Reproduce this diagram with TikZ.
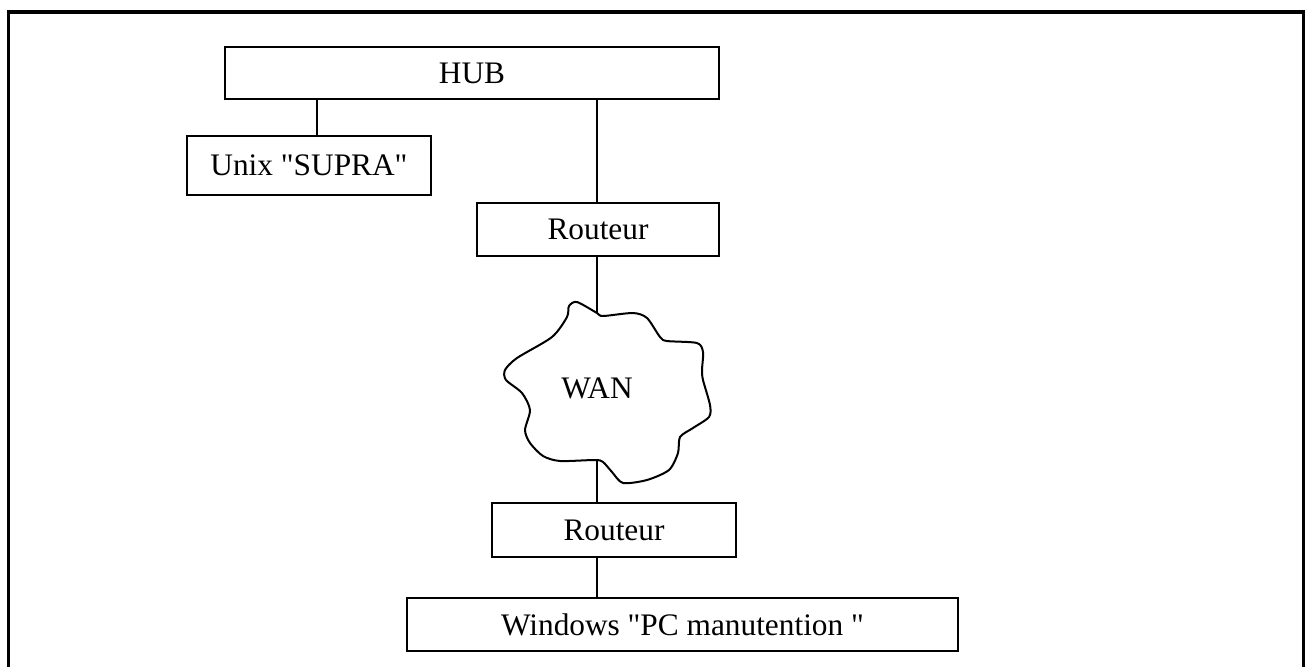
\documentclass[tikz,border=0pt]{standalone}
\usepackage{fontspec}
\setmainfont{Liberation Serif}
\begin{document}
\begin{tikzpicture}[x=0.75pt,y=-0.75pt,
  box/.style={draw,line width=1.5pt,rectangle,inner sep=0pt,
    font=\fontsize{23.5}{28}\selectfont},
  link/.style={line width=1.5pt},
  frame/.style={line width=2.6pt}]
\useasboundingbox (0,0) rectangle (1305,667);
\draw[frame] (8.5,667) -- (8.5,12) -- (1303.5,12) -- (1303.5,667);

\node[box,minimum width=370.5pt,minimum height=39pt] (hub) at (472,73) {HUB};
\node[box,minimum width=183pt,minimum height=44.25pt] (unix) at (309,165.5) {Unix \textquotedbl SUPRA\textquotedbl};
\node[box,minimum width=181.5pt,minimum height=39.75pt] (r1) at (598,229.5) {Routeur};
\node[box,minimum width=183pt,minimum height=40.5pt] (r2) at (614,530) {Routeur};
\node[box,minimum width=413.25pt,minimum height=39.75pt] (win) at (682.5,624.5) {Windows \textquotedbl PC manutention \textquotedbl};

\draw[line width=1.5pt,line join=round]
  plot[smooth cycle,tension=0.45] coordinates {
  (597,313) (577,302) (569,306) (567,317) (552,337) (517,358) (505,370)
  (506,380) (522,393) (530,410) (525,430) (530,443) (543,456) (560,461)
  (595,460) (603,462) (612,472) (623,483) (647,480) (669,470) (678,453)
  (680,437) (693,428) (709,417) (710,405) (703,380) (702,370) (703,352)
  (697,343) (667,341) (660,337) (647,318) (633,313) (603,316)};
\node[font=\fontsize{23.5}{28}\selectfont] (wan) at (597,388) {WAN};
\coordinate (ctop) at (597,313);
\coordinate (cbot) at (597,460);
\coordinate (xl) at (317,0);
\coordinate (xr) at (597,0);

\draw[link] (xl |- hub.south) -- (xl |- unix.north);
\draw[link] (xr |- hub.south) -- (xr |- r1.north);
\draw[link] (xr |- r1.south) -- (ctop);
\draw[link] (cbot) -- (xr |- r2.north);
\draw[link] (xr |- r2.south) -- (xr |- win.north);
\end{tikzpicture}
\end{document}
